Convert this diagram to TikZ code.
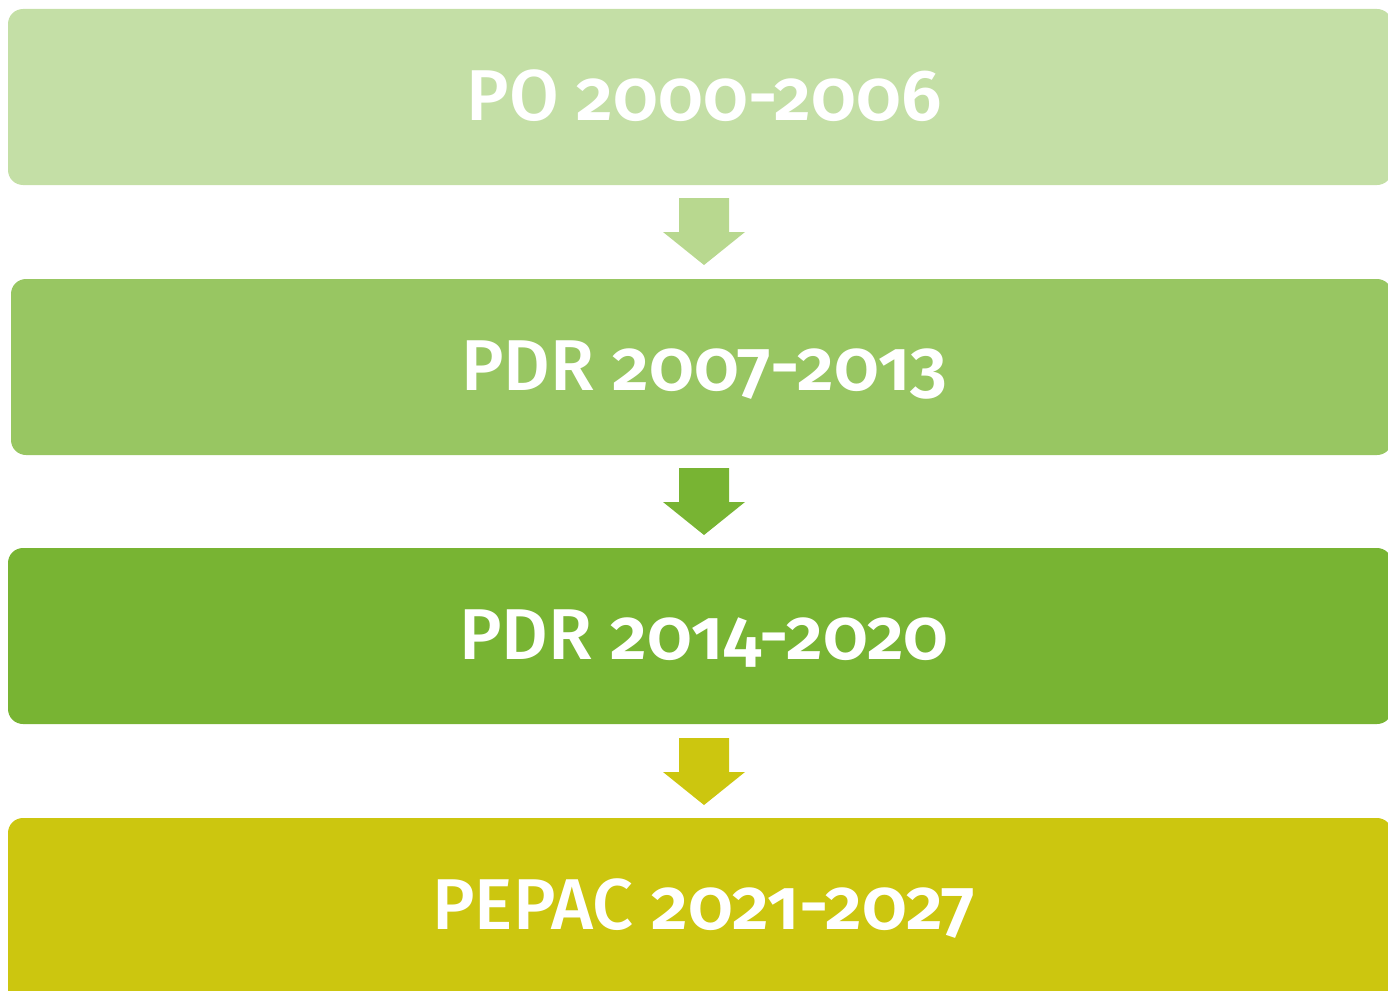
\documentclass[tikz,border=0pt]{standalone}
\usepackage{fontspec}
\setmainfont{Fira Sans}[Numbers=OldStyle, UprightFont=* Medium, BoldFont=* SemiBold]
\definecolor{cA}{HTML}{C4DFA6}
\definecolor{cB}{HTML}{98C662}
\definecolor{cC}{HTML}{78B433}
\definecolor{cD}{HTML}{CCC60F}
\definecolor{aA}{HTML}{B8D88F}
\tikzset{
  box/.style={draw=none, rounded corners=15pt},
  lbl/.style={anchor=base, text=white, inner sep=0pt, font=\fontsize{72}{78}\selectfont},
  blockarrow/.style={draw=none}
}
\newcommand{\yr}[1]{{\bfseries #1}}
\begin{document}
\begin{tikzpicture}[x=1pt,y=-1pt]
\useasboundingbox (0,0) rectangle (1388,990);
\clip (0,0) rectangle (1388,990);
\fill[box, cA] (8,9) rectangle (1392,185);
\fill[box, cB] (11,279) rectangle (1392,455);
\fill[box, cC] (8,548) rectangle (1392,724);
\fill[box, cD] (8,818) rectangle (1392,1010);
\node[lbl] (t1) at (704,120) {PO \yr{2000-2006}};
\node[lbl] (t2) at (704,390) {PDR \yr{2007-2013}};
\node[lbl] (t3) at (704,659) {PDR \yr{2014-2020}};
\node[lbl] (t4) at (704,929) {PEPAC \yr{2021-2027}};
\foreach \c/\top in {aA/198, cC/468, cD/738}{
  \fill[blockarrow, \c] (679,\top) -- (729,\top) -- (729,\top+34) -- (745,\top+34)
     -- (704,\top+67) -- (663,\top+34) -- (679,\top+34) -- cycle;
}
\end{tikzpicture}
\end{document}
